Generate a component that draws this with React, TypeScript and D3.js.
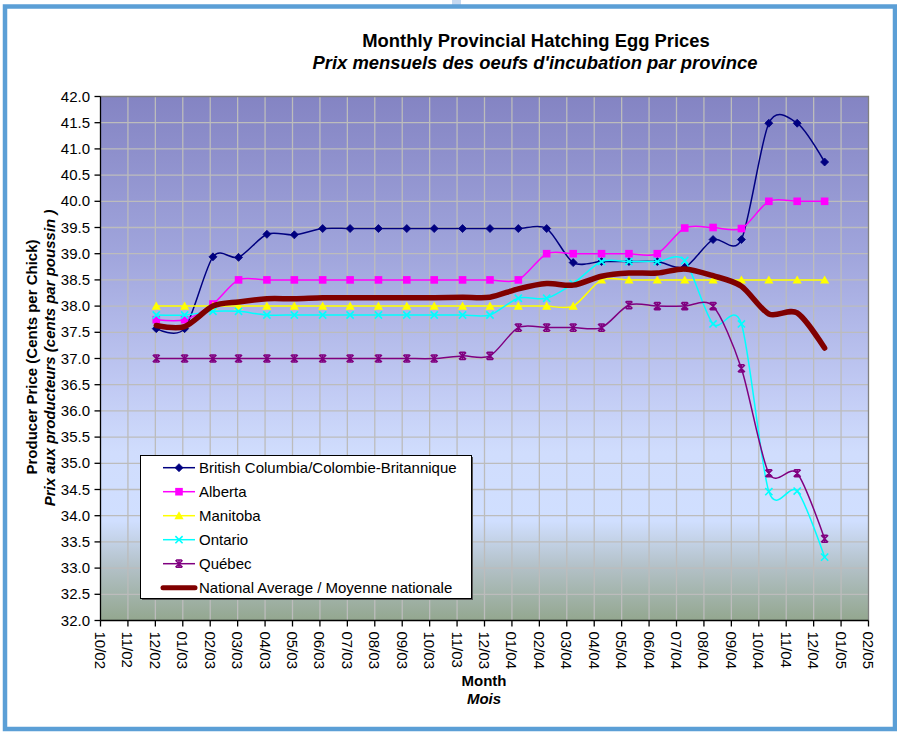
import React from "react";
import * as d3 from "d3";

// ---------- DATA ----------
const months = [
  "2002-12", "2003-01", "2003-02", "2003-03", "2003-04", "2003-05", "2003-06",
  "2003-07", "2003-08", "2003-09", "2003-10", "2003-11", "2003-12", "2004-01",
  "2004-02", "2004-03", "2004-04", "2004-05", "2004-06", "2004-07", "2004-08",
  "2004-09", "2004-10", "2004-11", "2004-12",
];

const britishColumbia = [
  37.57, 37.57, 38.94, 38.93, 39.37, 39.36, 39.48, 39.48, 39.48, 39.48, 39.48,
  39.48, 39.48, 39.48, 39.48, 38.83, 38.85, 38.85, 38.85, 38.74, 39.27, 39.27,
  41.49, 41.49, 40.75,
];
const alberta = [
  37.74, 37.74, 38.04, 38.5, 38.5, 38.5, 38.5, 38.5, 38.5, 38.5, 38.5, 38.5,
  38.5, 38.5, 39.0, 39.0, 39.0, 39.0, 39.0, 39.49, 39.5, 39.48, 40.0, 40.0, 40.0,
];
const manitoba = [
  38.0, 38.0, 38.0, 38.0, 38.0, 38.0, 38.0, 38.0, 38.0, 38.0, 38.0, 38.0, 38.0,
  38.0, 38.0, 38.0, 38.5, 38.5, 38.5, 38.5, 38.5, 38.5, 38.5, 38.5, 38.5,
];
const ontario = [
  37.83, 37.83, 37.9, 37.9, 37.83, 37.83, 37.83, 37.83, 37.83, 37.83, 37.83,
  37.83, 37.83, 38.15, 38.15, 38.43, 38.85, 38.85, 38.85, 38.87, 37.66, 37.66,
  34.46, 34.47, 33.21,
];
const quebec = [
  37.0, 37.0, 37.0, 37.0, 37.0, 37.0, 37.0, 37.0, 37.0, 37.0, 37.0, 37.05,
  37.05, 37.59, 37.59, 37.59, 37.59, 38.02, 38.0, 38.0, 38.0, 36.81, 34.81,
  34.81, 33.56,
];
const nationalAverage = [
  37.63, 37.61, 38.0, 38.08, 38.14, 38.14, 38.16, 38.16, 38.16, 38.16, 38.16,
  38.17, 38.17, 38.33, 38.43, 38.4, 38.57, 38.63, 38.63, 38.71, 38.58, 38.38,
  37.85, 37.87, 37.2,
];

const seriesNames = [
  "British Columbia/Colombie-Britannique",
  "Alberta",
  "Manitoba",
  "Ontario",
  "Québec",
  "National Average / Moyenne nationale",
];

const yTicks = [32, 32.5, 33, 33.5, 34, 34.5, 35, 35.5, 36, 36.5, 37, 37.5, 38, 38.5, 39, 39.5, 40, 40.5, 41, 41.5, 42];

const xTickLabels = [
  "10/02", "11/02", "12/02", "01/03", "02/03", "03/03", "04/03", "05/03",
  "06/03", "07/03", "08/03", "09/03", "10/03", "11/03", "12/03", "01/04",
  "02/04", "03/04", "04/04", "05/04", "06/04", "07/04", "08/04", "09/04",
  "10/04", "11/04", "12/04", "01/05", "02/05",
];

// ---------- LAYOUT ----------
const W = 897;
const H = 733;
const left = 100.5;
const right = 868.5;
const top = 96.5;
const bottom = 620.5;

const axisStart = new Date(Date.UTC(2002, 9, 15));
const tickDates = xTickLabels.map((_, k) => d3.utcDay.offset(axisStart, 30 * k));
const axisEnd = tickDates[tickDates.length - 1];

const x = d3.scaleUtc().domain([axisStart, axisEnd]).range([left, right]);
const y = d3.scaleLinear().domain([32, 42]).range([bottom, top]);

const dates = months.map((m) => {
  const [yy, mm] = m.split("-").map(Number);
  return new Date(Date.UTC(yy, mm - 1, 15));
});

const FONT = "'Liberation Sans', Arial, sans-serif";

type MarkerKind = "diamond" | "square" | "triangle" | "x" | "star" | "none";

interface Series {
  name: string;
  values: number[];
  color: string;
  width: number;
  marker: MarkerKind;
}

const series: Series[] = [
  { name: seriesNames[0], values: britishColumbia, color: "#000080", width: 1.5, marker: "diamond" },
  { name: seriesNames[1], values: alberta, color: "#FF00FF", width: 1.5, marker: "square" },
  { name: seriesNames[2], values: manitoba, color: "#FFFF00", width: 1.5, marker: "triangle" },
  { name: seriesNames[3], values: ontario, color: "#00FFFF", width: 1.5, marker: "x" },
  { name: seriesNames[4], values: quebec, color: "#800080", width: 1.5, marker: "star" },
  { name: seriesNames[5], values: nationalAverage, color: "#800000", width: 5.5, marker: "none" },
];

const lineGen = d3
  .line<[Date, number]>()
  .x((d) => x(d[0]))
  .y((d) => y(d[1]))
  .curve(d3.curveCardinal.tension(0.15));

function Marker({ kind, cx, cy, color }: { kind: MarkerKind; cx: number; cy: number; color: string }) {
  const t = `translate(${cx},${cy})`;
  switch (kind) {
    case "diamond":
      return <path transform={t} d="M0,-4L4,0L0,4L-4,0Z" fill={color} stroke={color} strokeWidth={0.8} />;
    case "square":
      return <rect x={cx - 3.8} y={cy - 3.8} width={7.6} height={7.6} fill={color} />;
    case "triangle":
      return <path transform={t} d="M0,-4.5L4.6,3.6L-4.6,3.6Z" fill={color} />;
    case "x":
      return <path transform={t} d="M-3.6,-3.6L3.6,3.6M-3.6,3.6L3.6,-3.6" stroke={color} strokeWidth={1.6} fill="none" />;
    case "star":
      return (
        <path
          transform={t}
          d="M-3.5,-3.5L3.5,3.5M-3.5,3.5L3.5,-3.5M0,-3.8L0,3.8M-2.8,-3.6L2.8,-3.6M-2.8,3.6L2.8,3.6"
          stroke={color}
          strokeWidth={1.5}
          fill="none"
        />
      );
    default:
      return null;
  }
}

export default function App() {
  const legendX = 140.5;
  const legendY = 455.5;
  const legendW = 331;
  const legendH = 143;
  const rowY0 = 467.7;
  const rowStep = 24;

  return (
    <div style={{ position: "absolute", left: 0, top: 0 }}>
      <svg width={W} height={H} viewBox={`0 0 ${W} ${H}`} style={{ display: "block", background: "#fff" }} fontFamily={FONT}>
        <defs>
          <linearGradient id="plotBg" x1="0" y1="0" x2="0" y2="1">
            <stop offset="0%" stopColor="#8484c3" />
            <stop offset="30%" stopColor="#a0a5dc" />
            <stop offset="55%" stopColor="#c0c9f3" />
            <stop offset="68%" stopColor="#d0ddfd" />
            <stop offset="81%" stopColor="#d0dfff" />
            <stop offset="90%" stopColor="#b2c0c6" />
            <stop offset="100%" stopColor="#93a78f" />
          </linearGradient>
        </defs>

        {/* outer frame */}
        <rect x={452} y={0} width={9} height={5} fill="#c5d9f1" />
        <rect x={5} y={6.5} width={890} height={722.5} fill="none" stroke="#5b9fd6" strokeWidth={4.5} />

        {/* titles */}
        <text x={536} y={47} textAnchor="middle" fontSize={18.4} fontWeight="bold" fill="#000">
          Monthly Provincial Hatching Egg Prices
        </text>
        <text x={535} y={69} textAnchor="middle" fontSize={18.4} fontWeight="bold" fontStyle="italic" fill="#000">
          Prix mensuels des oeufs d'incubation par province
        </text>

        {/* plot background */}
        <rect x={left} y={top} width={right - left} height={bottom - top} fill="url(#plotBg)" />

        {/* grid */}
        <g stroke="#bcbcbc" strokeWidth={1.3}>
          {yTicks.slice(1, -1).map((v) => (
            <line key={`gy${v}`} x1={left} x2={right} y1={y(v)} y2={y(v)} />
          ))}
          {tickDates.slice(1, -1).map((d, i) => (
            <line key={`gx${i}`} x1={x(d)} x2={x(d)} y1={top} y2={bottom} />
          ))}
        </g>

        {/* plot border top/right */}
        <path d={`M${left},${top}H${right}V${bottom}`} fill="none" stroke="#808080" strokeWidth={1.3} />

        {/* series lines */}
        {series.map((s) => {
          const pts = dates.map((d, i) => [d, s.values[i]] as [Date, number]);
          return (
            <g key={s.name}>
              <path
                d={lineGen(pts) || ""}
                fill="none"
                stroke={s.color}
                strokeWidth={s.width}
                strokeLinejoin="round"
                strokeLinecap="round"
              />
              {pts.map((p, i) => (
                <Marker key={i} kind={s.marker} cx={x(p[0])} cy={y(p[1])} color={s.color} />
              ))}
            </g>
          );
        })}

        {/* axes */}
        <g stroke="#000" strokeWidth={1.3}>
          <line x1={left} x2={left} y1={top} y2={bottom} />
          <line x1={left} x2={right} y1={bottom} y2={bottom} />
          {yTicks.map((v) => (
            <line key={`ty${v}`} x1={left - 6} x2={left} y1={y(v)} y2={y(v)} />
          ))}
          {tickDates.map((d, i) => (
            <line key={`tx${i}`} x1={x(d)} x2={x(d)} y1={bottom} y2={bottom + 6} />
          ))}
        </g>

        {/* y tick labels */}
        {yTicks.map((v) => (
          <text key={`ly${v}`} x={90} y={y(v) + 5} textAnchor="end" fontSize={15} fill="#000">
            {v.toFixed(1)}
          </text>
        ))}

        {/* x tick labels */}
        {tickDates.map((d, i) => (
          <text
            key={`lx${i}`}
            transform={`translate(${x(d)},${bottom + 11}) rotate(90)`}
            dominantBaseline="central"
            fontSize={15}
            fill="#000"
          >
            {xTickLabels[i]}
          </text>
        ))}

        {/* axis titles */}
        <text x={484} y={686} textAnchor="middle" fontSize={15} fontWeight="bold" fill="#000">
          Month
        </text>
        <text x={484} y={704} textAnchor="middle" fontSize={15} fontWeight="bold" fontStyle="italic" fill="#000">
          Mois
        </text>
        <text transform="translate(37,357) rotate(-90)" textAnchor="middle" fontSize={15} fontWeight="bold" fill="#000">
          Producer Price (Cents per Chick)
        </text>
        <text
          transform="translate(55,358) rotate(-90)"
          textAnchor="middle"
          fontSize={15}
          fontWeight="bold"
          fontStyle="italic"
          fill="#000"
        >
          Prix aux producteurs (cents par poussin )
        </text>

        {/* legend */}
        <rect x={legendX + 1.5} y={legendY + 1.5} width={legendW} height={legendH} fill="#555" />
        <rect x={legendX} y={legendY} width={legendW} height={legendH} fill="#fff" stroke="#000" strokeWidth={1} />
        {series.map((s, i) => {
          const ry = rowY0 + rowStep * i;
          return (
            <g key={`lg${i}`}>
              <line
                x1={163}
                x2={195}
                y1={ry}
                y2={ry}
                stroke={s.color}
                strokeWidth={s.marker === "none" ? 5 : 1.5}
                strokeLinecap={s.marker === "none" ? "round" : "butt"}
              />
              <Marker kind={s.marker} cx={179} cy={ry} color={s.color} />
              <text x={199} y={ry + 5.5} fontSize={15} fill="#000">
                {s.name}
              </text>
            </g>
          );
        })}
      </svg>
    </div>
  );
}
